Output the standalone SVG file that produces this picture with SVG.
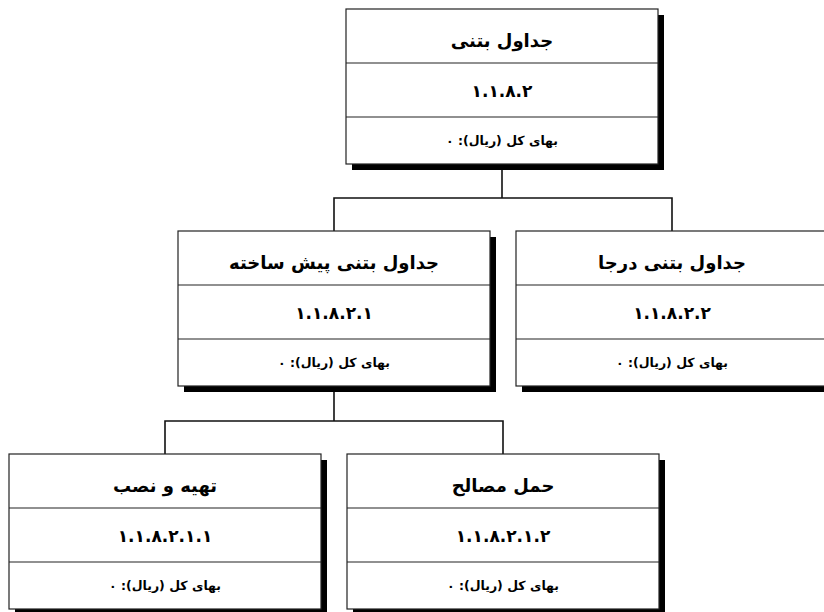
<svg xmlns="http://www.w3.org/2000/svg" width="824" height="612" viewBox="0 0 824 612">
<style>
.shadow{fill:#000}
.box{fill:#fff;stroke:#222;stroke-width:1.2}
.div{stroke:#222;stroke-width:1.2}
.conn{fill:none;stroke:#111;stroke-width:1.6}
text{font-family:"DejaVu Sans",sans-serif;font-weight:bold;fill:#000;text-anchor:middle;direction:rtl}
.t{font-size:18px}
.c{font-size:17px}
.p{font-size:12.5px}
</style>
<defs>
<g id="frame">
<rect class="shadow" x="6" y="6" width="312" height="155"/>
<rect class="box" x="0" y="0" width="312" height="155"/>
<line class="div" x1="0" y1="54" x2="312" y2="54"/>
<line class="div" x1="0" y1="108" x2="312" y2="108"/>
</g>
</defs>
<rect width="824" height="612" fill="#fff"/>
<g id="connectors">
<path class="conn" d="M502,170 V198 M334,231 V198 H672 V231"/>
<path class="conn" d="M334,392 V421 M165,454 V421 H503 V454"/>
</g>
<g id="n1" transform="translate(346,9)">
<use href="#frame"/>
<text class="t" x="156" y="38">جداول بتنی</text>
<text class="c" x="156" y="88">۱.۱.۸.۲</text>
<text class="p" x="156" y="136">بهای کل (ریال): ۰</text>
</g>
<g id="n2" transform="translate(178,231)">
<use href="#frame"/>
<text class="t" x="156" y="38">جداول بتنی پیش ساخته</text>
<text class="c" x="156" y="88">۱.۱.۸.۲.۱</text>
<text class="p" x="156" y="136">بهای کل (ریال): ۰</text>
</g>
<g id="n3" transform="translate(516,231)">
<use href="#frame"/>
<text class="t" x="156" y="38">جداول بتنی درجا</text>
<text class="c" x="156" y="88">۱.۱.۸.۲.۲</text>
<text class="p" x="156" y="136">بهای کل (ریال): ۰</text>
</g>
<g id="n4" transform="translate(9,454)">
<use href="#frame"/>
<text class="t" x="156" y="38">تهیه و نصب</text>
<text class="c" x="156" y="88">۱.۱.۸.۲.۱.۱</text>
<text class="p" x="156" y="136">بهای کل (ریال): ۰</text>
</g>
<g id="n5" transform="translate(347,454)">
<use href="#frame"/>
<text class="t" x="156" y="38">حمل مصالح</text>
<text class="c" x="156" y="88">۱.۱.۸.۲.۱.۲</text>
<text class="p" x="156" y="136">بهای کل (ریال): ۰</text>
</g>
</svg>
